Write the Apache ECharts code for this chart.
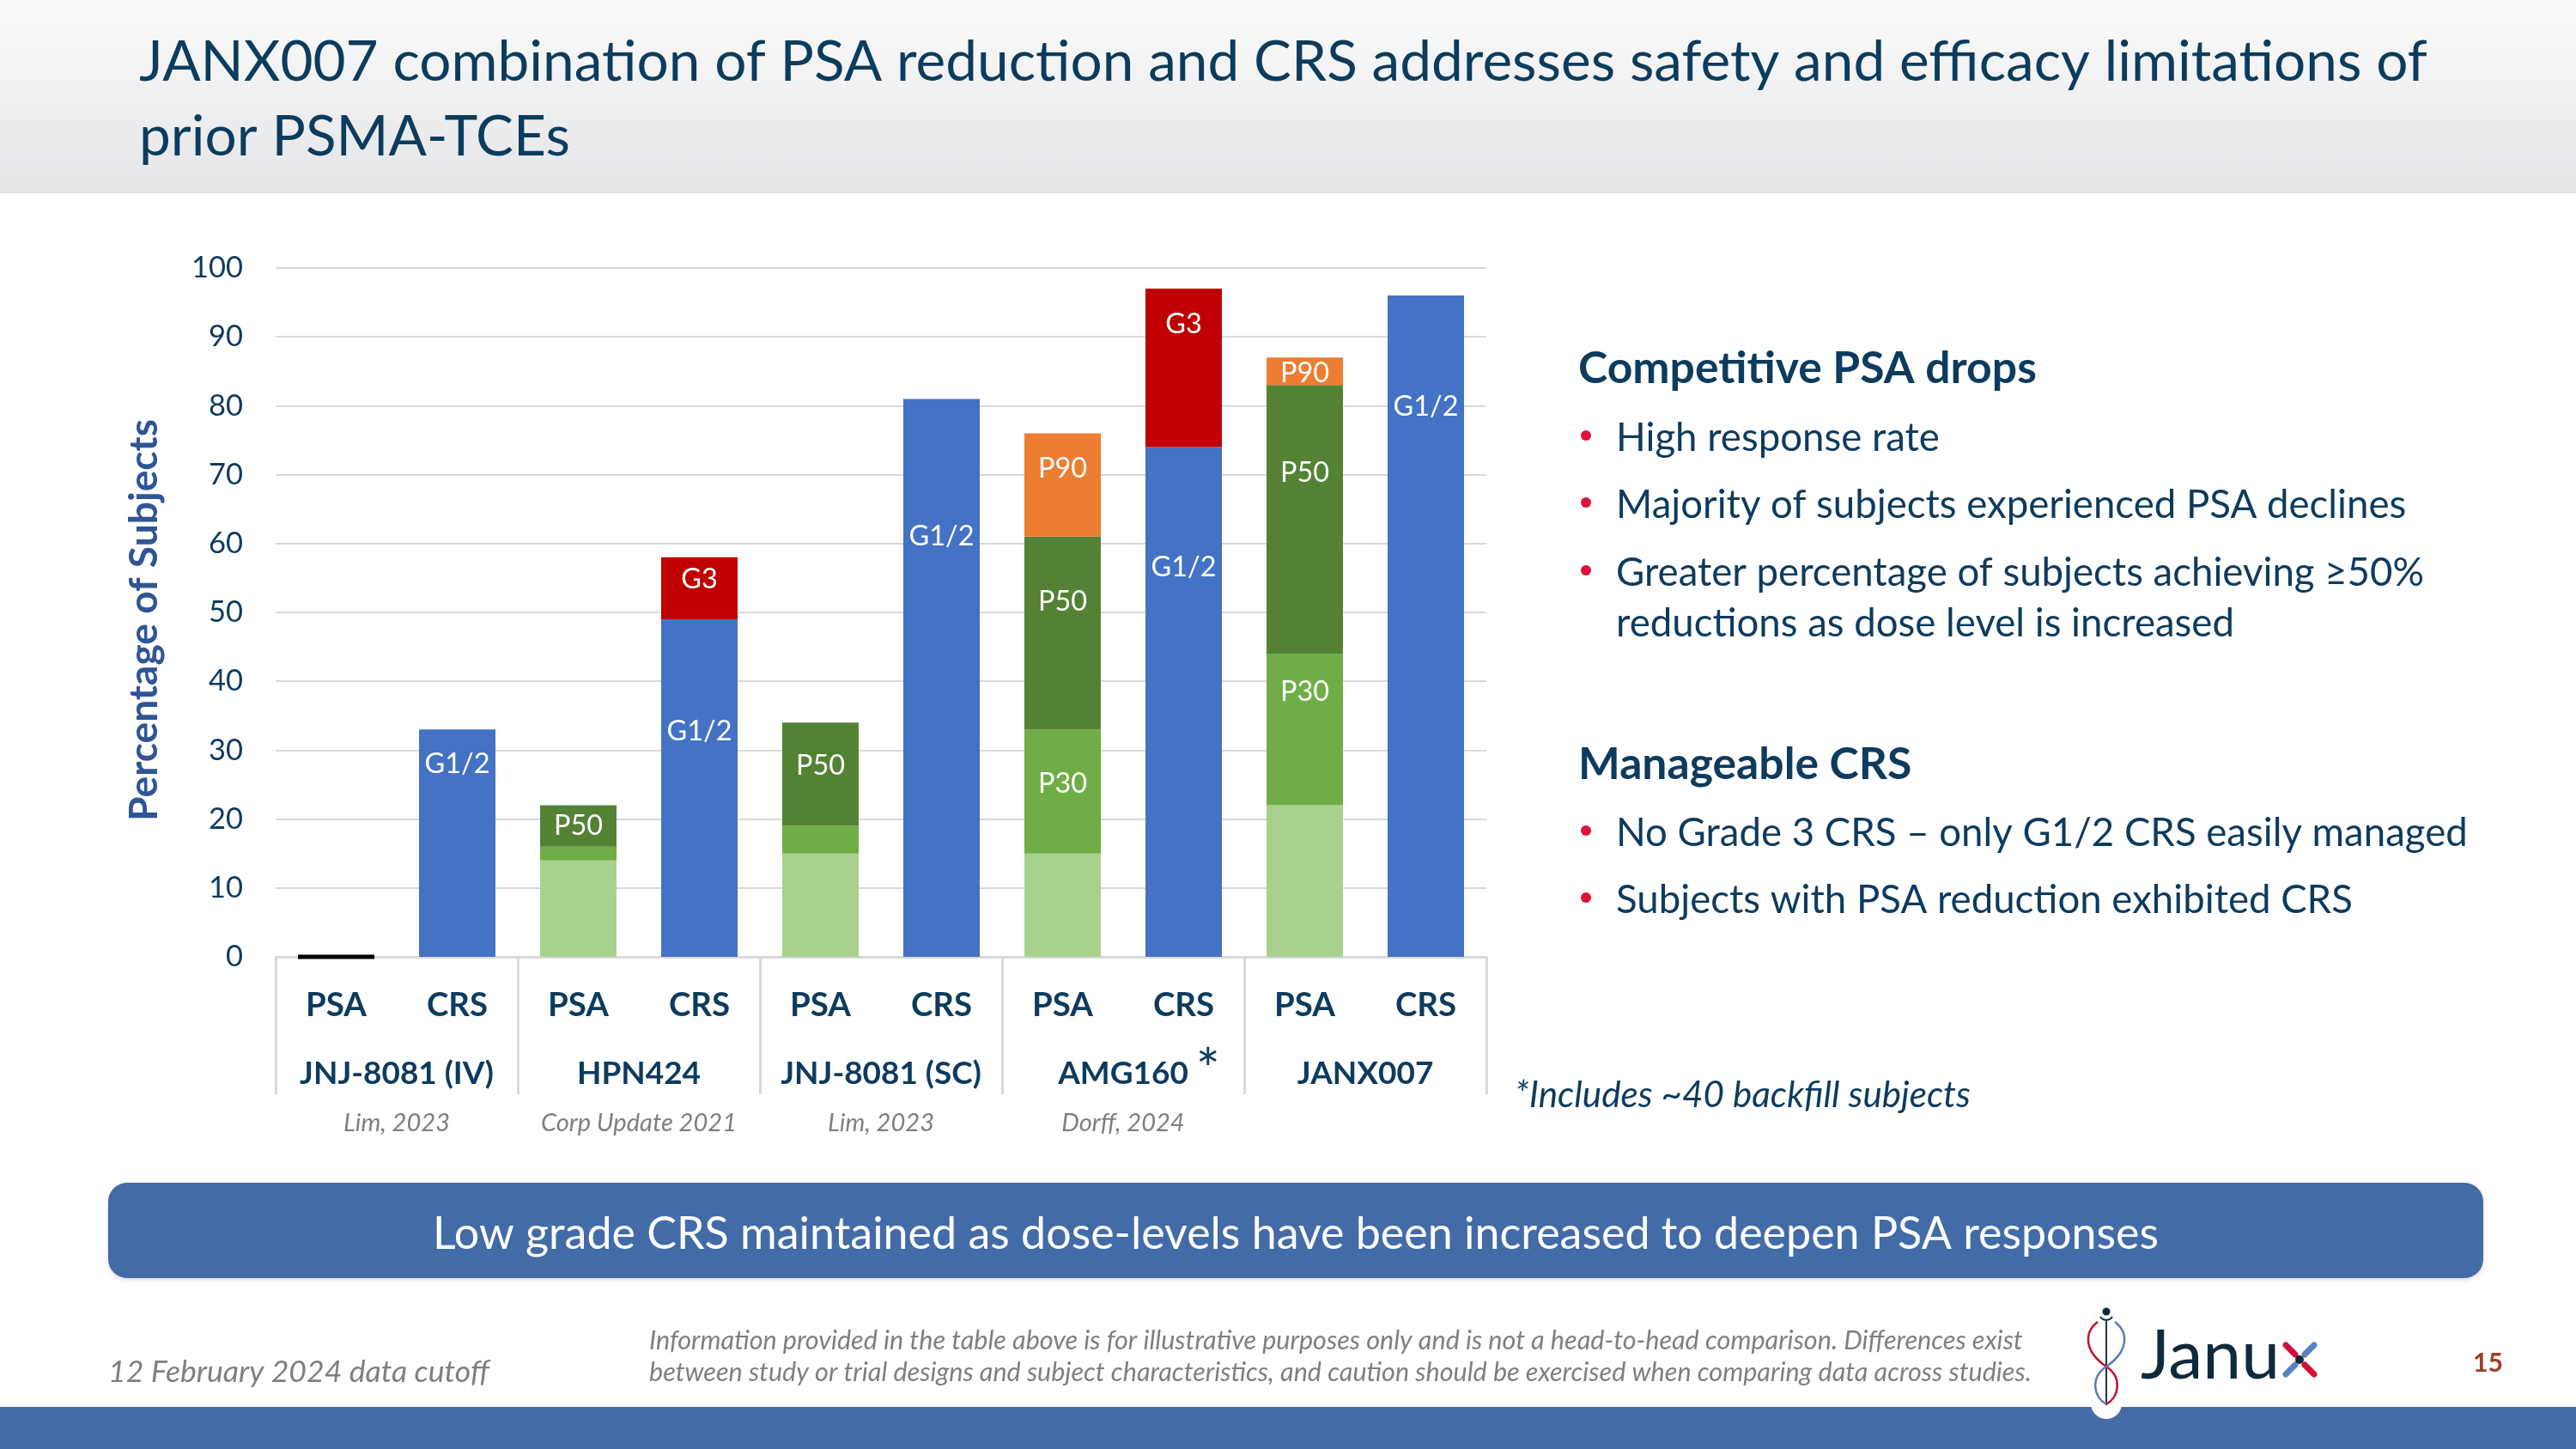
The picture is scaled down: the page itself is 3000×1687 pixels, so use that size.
<!DOCTYPE html>
<html>
<head>
<meta charset="utf-8">
<script src="https://cdn.jsdelivr.net/npm/echarts@6/dist/echarts.min.js"></script>
<style>
html,body{margin:0;padding:0;background:#ffffff;}
#c{width:3000px;height:1687px;}
</style>
</head>
<body>
<div id="c"></div>
<script>
// ---------------- DATA ----------------
const categories = ['PSA','CRS','PSA','CRS','PSA','CRS','PSA','CRS','PSA','CRS'];
const groups     = ['JNJ-8081 (IV)','HPN424','JNJ-8081 (SC)','AMG160','JANX007'];
const groupRefs  = ['Lim, 2023','Corp Update 2021','Lim, 2023','Dorff, 2024',''];
const groupMarks = ['','','','*',''];
const yMin = 0, yMax = 100, yStep = 10;

// PSA reduction segments (% of subjects)
const psaBase = [0, null, 14, null, 15, null, 15, null, 22, null];
const psaP30  = [null, null, 2, null, 4, null, 18, null, 22, null];
const psaP50  = [null, null, 6, null, 15, null, 28, null, 39, null];
const psaP90  = [null, null, null, null, null, null, 15, null, 4, null];
// CRS segments (% of subjects)
const crsG12  = [null, 33, null, 49, null, 81, null, 74, null, 96];
const crsG3   = [null, null, null, 9, null, null, null, 23, null, null];

// ---------------- TEXTS ----------------
const titleLines = ['JANX007 combination of PSA reduction and CRS addresses safety and efficacy limitations of', 'prior PSMA-TCEs'];
const yAxisTitle = 'Percentage of Subjects';
const head1 = 'Competitive PSA drops';
const bullets1 = ['High response rate', 'Majority of subjects experienced PSA declines', 'Greater percentage of subjects achieving \u226550%', 'reductions as dose level is increased'];
const head2 = 'Manageable CRS';
const bullets2 = ['No Grade 3 CRS \u2013 only G1/2 CRS easily managed', 'Subjects with PSA reduction exhibited CRS'];
const footnote = '*Includes ~40 backfill subjects';
const bannerText = 'Low grade CRS maintained as dose-levels have been increased to deepen PSA responses';
const dateText = '12 February 2024 data cutoff';
const disclaimer = ['Information provided in the table above is for illustrative purposes only and is not a head-to-head comparison. Differences exist', 'between study or trial designs and subject characteristics, and caution should be exercised when comparing data across studies.'];
const pageNo = '15';

// ---------------- STYLE ----------------
const FONT = 'Lato';
const NAVY = '#0D3B5E';
const GRAY = '#7F7F7F';
const mctx = document.createElement('canvas').getContext('2d');
function measure(text, size, weight, style) {
  mctx.font = (style || 'normal') + ' ' + (weight || 'normal') + ' ' + size + 'px ' + FONT;
  return mctx.measureText(text).width;
}
function fit(text, width, weight, style) {
  return 100 * width / measure(text, 100, weight, style);
}
// label vertical shifts (px) relative to segment centre, by category index
const labelShift = {
  'P30': {6: -9, 8: -44},
  'P50': {2: 0, 4: -10, 6: -37, 8: -54},
  'P90': {6: -19, 8: 2},
  'G1/2': {1: -92, 3: -66, 5: -165, 7: -157, 9: -256},
  'G3': {3: -10, 7: -51}
};
const seriesDefs = [
  {data: psaBase, color: '#A9D18E', label: ''},
  {data: psaP30,  color: '#70AD47', label: 'P30'},
  {data: psaP50,  color: '#548235', label: 'P50'},
  {data: psaP90,  color: '#ED7D31', label: 'P90'},
  {data: crsG12,  color: '#4472C4', label: 'G1/2'},
  {data: crsG3,   color: '#C00000', label: 'G3'}
];

const barLabelSize = fit('G1/2', 76);
const catSize = fit('PSA', 71, 'bold');
const grpSize = fit('JNJ-8081 (IV)', 226, 'bold');
const refSize = fit('Corp Update 2021', 228, 'normal', 'italic');
const tickSize = fit('100', 60);

const series = seriesDefs.map(def => ({
  type: 'bar',
  name: def.label || 'base',
  stack: 'all',
  barWidth: 89,
  itemStyle: {color: def.color},
  label: {show: false, position: 'inside', formatter: def.label, color: '#ffffff',
          fontSize: barLabelSize, fontFamily: FONT},
  data: def.data.map((v, i) => {
    if (v == null) return '-';
    const it = {value: v};
    if (v === 0) it.itemStyle = {color: '#000000', borderColor: '#000000', borderWidth: 5};
    const sh = (labelShift[def.label] || {})[i];
    if (sh !== undefined) it.label = {show: true, offset: [0, sh]};
    return it;
  })
}));

// ---------------- GRAPHICS (page furniture) ----------------
const titleSize = fit(titleLines[0], 2665);
const headSize = fit(head1, 534, 'bold');
const bodySize = fit(bullets1[1], 930) * 0.99;
const footSize = fit(footnote, 531, 'normal', 'italic');
const bannerSize = fit(bannerText, 2010);
const dateSize = fit(dateText, 444, 'normal', 'italic');
const discSize = fit(disclaimer[1], 1610, 'normal', 'italic');
const januSize = fit('Janu', 162);
const pageSize = fit(pageNo, 35, 'bold');

function txt(text, x, y, size, o) {
  o = o || {};
  return {
    type: 'text', x: x, y: y, rotation: o.rotation || 0, z: o.z || 5,
    style: {
      text: text, fill: o.color || NAVY, fontSize: size, fontFamily: o.family || FONT,
      fontWeight: o.weight || 'normal', fontStyle: o.style || 'normal',
      align: o.align || 'left', verticalAlign: 'middle',
      textAlign: o.align || 'left', textVerticalAlign: 'middle'
    }
  };
}
const RED_B = '#E0103A';
const graphics = [
  {type: 'rect', shape: {x: 0, y: 0, width: 3000, height: 225}, z: 0,
   style: {fill: {type: 'linear', x: 0, y: 0, x2: 0, y2: 1,
     colorStops: [{offset: 0, color: '#FBFBFB'}, {offset: 1, color: '#E4E5E8'}]}}},
  txt(titleLines[0], 162, 73, titleSize, {color: '#0B3C5D'}),
  txt(titleLines[1], 162, 160, titleSize, {color: '#0B3C5D'}),
  txt(yAxisTitle, 168, 722, fit(yAxisTitle, 468, 'bold'), {weight: 'bold', color: '#2F5597', align: 'center', rotation: Math.PI / 2}),
  // right text block
  txt(head1, 1838, 429, headSize, {weight: 'bold'}),
  txt(bullets1[0], 1882, 510, bodySize),
  txt(bullets1[1], 1882, 588, bodySize),
  txt(bullets1[2], 1882, 667, bodySize),
  txt(bullets1[3], 1882, 726, bodySize),
  txt(head2, 1838, 890, headSize, {weight: 'bold'}),
  txt(bullets2[0], 1882, 970, bodySize),
  txt(bullets2[1], 1882, 1048, bodySize),
  {type: 'circle', shape: {cx: 1847, cy: 507, r: 6}, style: {fill: RED_B}},
  {type: 'circle', shape: {cx: 1847, cy: 585, r: 6}, style: {fill: RED_B}},
  {type: 'circle', shape: {cx: 1847, cy: 664, r: 6}, style: {fill: RED_B}},
  {type: 'circle', shape: {cx: 1847, cy: 967, r: 6}, style: {fill: RED_B}},
  {type: 'circle', shape: {cx: 1847, cy: 1045, r: 6}, style: {fill: RED_B}},
  txt(footnote, 1764, 1275, footSize, {style: 'italic'}),
  // banner
  {type: 'rect', shape: {x: 126, y: 1377, width: 2766, height: 111, r: 22}, z: 1,
   style: {fill: '#426BA7', shadowBlur: 5, shadowColor: 'rgba(0,0,0,0.15)', shadowOffsetY: 2}},
  txt(bannerText, 1509, 1437, bannerSize, {color: '#FFFFFF', align: 'center', z: 6}),
  // footer
  txt(dateText, 126, 1597, dateSize, {color: GRAY, style: 'italic'}),
  txt(disclaimer[0], 756, 1561, discSize, {color: GRAY, style: 'italic'}),
  txt(disclaimer[1], 756, 1598, discSize, {color: GRAY, style: 'italic'}),
  {type: 'rect', shape: {x: 0, y: 1638, width: 3000, height: 49}, z: 1, style: {fill: '#426BA7'}},
  // logo
  {type: 'circle', shape: {cx: 2453, cy: 1634, r: 18}, z: 3, style: {fill: '#FFFFFF'}},
  {type: 'line', shape: {x1: 2453, y1: 1536, x2: 2453, y2: 1636}, z: 4, style: {stroke: '#1F3345', lineWidth: 2}},
  {type: 'circle', shape: {cx: 2453, cy: 1527, r: 4.5}, z: 4, style: {fill: '#13293A'}},
  {type: 'bezierCurve', shape: {x1: 2446, y1: 1533, cpx1: 2449, cpy1: 1538, cpx2: 2457, cpy2: 1538, x2: 2460, y2: 1533}, z: 4, style: {stroke: '#13293A', lineWidth: 2, fill: null}},
  {type: 'bezierCurve', shape: {x1: 2443, y1: 1539, cpx1: 2426, cpy1: 1552, cpx2: 2428, cpy2: 1574, x2: 2453, y2: 1591}, z: 4, style: {stroke: '#C8102E', lineWidth: 2.5, fill: null}},
  {type: 'bezierCurve', shape: {x1: 2453, y1: 1591, cpx1: 2472, cpy1: 1604, cpx2: 2468, cpy2: 1626, x2: 2453, y2: 1635}, z: 4, style: {stroke: '#C8102E', lineWidth: 2.5, fill: null}},
  {type: 'bezierCurve', shape: {x1: 2463, y1: 1539, cpx1: 2480, cpy1: 1552, cpx2: 2478, cpy2: 1574, x2: 2453, y2: 1591}, z: 4, style: {stroke: '#5A7DB5', lineWidth: 2.5, fill: null}},
  {type: 'bezierCurve', shape: {x1: 2453, y1: 1591, cpx1: 2434, cpy1: 1604, cpx2: 2438, cpy2: 1626, x2: 2453, y2: 1635}, z: 4, style: {stroke: '#5A7DB5', lineWidth: 2.5, fill: null}},
  txt('Janu', 2493, 1579, januSize, {color: '#0F2A3C'}),
  {type: 'line', shape: {x1: 2662, y1: 1566, x2: 2673, y2: 1577}, z: 4, style: {stroke: '#D0103A', lineWidth: 7, lineCap: 'round'}},
  {type: 'line', shape: {x1: 2695, y1: 1600, x2: 2684, y2: 1589}, z: 4, style: {stroke: '#D0103A', lineWidth: 7, lineCap: 'round'}},
  {type: 'line', shape: {x1: 2695, y1: 1566, x2: 2684, y2: 1577}, z: 4, style: {stroke: '#5B82C0', lineWidth: 7, lineCap: 'round'}},
  {type: 'line', shape: {x1: 2662, y1: 1600, x2: 2673, y2: 1589}, z: 4, style: {stroke: '#5B82C0', lineWidth: 7, lineCap: 'round'}},
  {type: 'circle', shape: {cx: 2678, cy: 1583, r: 5}, z: 4, style: {fill: '#13293A'}},
  txt(pageNo, 2880, 1587, pageSize, {color: '#A33B27', weight: 'bold'})
];

// ---------------- CHART ----------------
const chart = echarts.init(document.getElementById('c'), null, {renderer: 'canvas', width: 3000, height: 1687});
chart.setOption({
  animation: false,
  backgroundColor: '#FFFFFF',
  grid: {left: 321, right: 1269, top: 312, bottom: 573, containLabel: false, outerBoundsMode: 'none'},
  xAxis: [
    {
      type: 'category', data: categories, position: 'bottom',
      axisLine: {show: true, lineStyle: {color: '#D9D9D9', width: 3}},
      axisTick: {show: false},
      axisLabel: {interval: 0, color: NAVY, fontWeight: 'bold', fontSize: catSize, fontFamily: FONT, margin: 38}
    },
    {
      type: 'category', data: groups, position: 'bottom', offset: 0,
      axisLine: {show: false},
      axisTick: {show: true, interval: 0, length: 160, lineStyle: {color: '#D9D9D9', width: 3}},
      axisLabel: {
        interval: 0, margin: 107,
        formatter: function (val, idx) {
          const m = groupMarks[idx];
          const name = m ? '{h|' + m + '}{n|' + val + '}{s|' + m + '}' : '{n|' + val + '}';
          return name + '\n{r|' + (groupRefs[idx] || ' ') + '}';
        },
        rich: {
          n: {fontSize: grpSize, fontWeight: 'bold', color: NAVY, fontFamily: FONT, lineHeight: 58},
          s: {fontSize: 66, color: NAVY, fontFamily: FONT, lineHeight: 58, padding: [0, 0, 4, 9]},
          h: {fontSize: 66, color: 'rgba(0,0,0,0)', fontFamily: FONT, lineHeight: 58, padding: [0, 9, 4, 0]},
          r: {fontSize: refSize, fontStyle: 'italic', color: GRAY, fontFamily: FONT, lineHeight: 58}
        }
      }
    }
  ],
  yAxis: {
    type: 'value', min: yMin, max: yMax, interval: yStep,
    axisLine: {show: false}, axisTick: {show: false},
    splitLine: {lineStyle: {color: '#D9D9D9', width: 2}},
    axisLabel: {color: NAVY, fontSize: tickSize, fontFamily: FONT, margin: 38}
  },
  series: series,
  graphic: {elements: graphics}
});
</script>
</body>
</html>
